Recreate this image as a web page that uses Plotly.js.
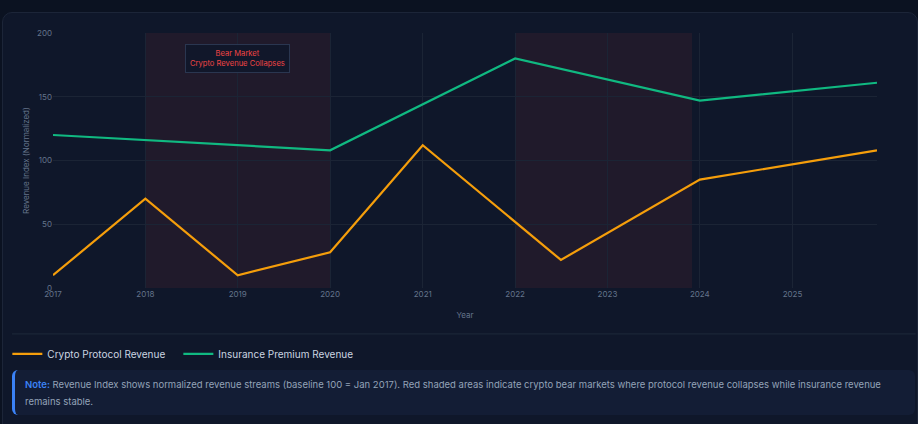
<!DOCTYPE html>
<html>
<head>
<meta charset="utf-8">
<script src="https://cdn.plot.ly/plotly-3.0.1.min.js"></script>
<style>
  html, body { margin: 0; padding: 0; background: #0b1221; width: 918px; height: 424px; overflow: hidden; font-family: Inter, "Noto Sans", sans-serif; }
  #card { position: absolute; left: 2px; top: 12px; width: 916px; height: 430px; background: #0f172a; border: 1px solid #1c2538; border-radius: 10px; box-sizing: border-box; }
  #chart { position: absolute; left: 0; top: 0; width: 918px; height: 366px; }
  #note { position: absolute; left: 12px; top: 370px; width: 903px; height: 45px; box-sizing: border-box; background: #131d35; border-left: 3px solid #3b82f6; border-radius: 6px; padding: 6px 10px 0 10px; color: #94a3b8; font-size: 9.5px; line-height: 17px; }
  #note b { color: #3b82f6; font-weight: 600; }
</style>
</head>
<body>
<div id="card"></div>
<div id="chart"></div>
<div id="note"><b>Note:</b> Revenue Index shows normalized revenue streams (baseline 100 = Jan 2017). Red shaded areas indicate crypto bear markets where protocol revenue collapses while insurance revenue remains stable.</div>
<script>
// values
var crypto_dates = ['2017-01-01', '2018-01-01', '2019-01-01', '2020-01-01', '2021-01-01', '2022-07-01', '2024-01-01', '2025-12-01']
var crypto_rev = [10, 70, 10, 28, 112, 22, 85, 108]

var ins_dates = ['2017-01-01', '2018-01-01', '2019-01-01', '2020-01-01', '2022-01-01', '2024-01-01', '2025-12-01']
var ins_rev = [120, 116, 112, 108, 180, 147, 161]

var bear_start = ['2018-01-01', '2022-01-01']
var bear_end = ['2020-01-01', '2023-12-01']

var tick_color = '#64748b'
var grid_color = '#1b2435'

var data = [
    {
        name: 'Crypto Protocol Revenue',
        x: crypto_dates,
        y: crypto_rev,
        type: 'scatter',
        mode: 'lines',
        legendwidth: 126,
        line: { color: '#f59e0b', width: 2.2 }
    },
    {
        name: 'Insurance Premium Revenue',
        x: ins_dates,
        y: ins_rev,
        type: 'scatter',
        mode: 'lines',
        line: { color: '#10b981', width: 2.2 }
    }
]

var shapes = bear_start.map(function (s, i) {
    return {
        type: 'rect', xref: 'x', yref: 'paper',
        x0: s, x1: bear_end[i], y0: 0, y1: 1,
        fillcolor: 'rgba(239,68,68,0.08)', line: { width: 0 }, layer: 'below'
    }
})
// divider above the legend
shapes.push({
    type: 'line', xref: 'paper', yref: 'paper',
    x0: -0.0498, x1: 1.047, y0: -0.18, y1: -0.18,
    line: { color: '#1e293b', width: 1 }
})

var layout = {
    width: 918,
    height: 366,
    margin: { l: 53, r: 41, t: 33, b: 78 },
    paper_bgcolor: 'rgba(0,0,0,0)',
    plot_bgcolor: 'rgba(0,0,0,0)',
    font: { family: 'Inter, sans-serif', color: tick_color, size: 8 },
    showlegend: true,
    legend: {
        orientation: 'h', xref: 'container', yref: 'container',
        x: 0.008, xanchor: 'left', y: 0.033, yanchor: 'middle',
        font: { size: 10, color: '#cbd5e1' }, bgcolor: 'rgba(0,0,0,0)'
    },
    xaxis: {
        type: 'date', automargin: false,
        range: ['2017-01-01', '2025-12-01'],
        dtick: 'M12', tick0: '2017-01-01', tickformat: '%Y',
        gridcolor: grid_color, showline: false, zeroline: false,
        tickfont: { size: 8, color: tick_color },
        title: { text: 'Year', font: { size: 8, color: tick_color }, standoff: 14 }
    },
    yaxis: {
        range: [0, 200], dtick: 50, automargin: false,
        gridcolor: grid_color, showline: false, zeroline: false,
        tickfont: { size: 8, color: tick_color },
        title: { text: 'Revenue Index (Normalized)', font: { size: 8, color: tick_color }, standoff: 6 }
    },
    shapes: shapes,
    annotations: [{
        x: '2019-01-01', y: 180, xref: 'x', yref: 'y',
        text: 'Bear Market<br>Crypto Revenue Collapses',
        showarrow: false,
        font: { size: 7.6, color: '#ef4444' },
        bgcolor: 'rgba(15,23,42,0.9)', bordercolor: '#2a3650', borderwidth: 1, borderpad: 4
    }]
}

Plotly.newPlot('chart', data, layout, { displayModeBar: false, staticPlot: true })
</script>
</body>
</html>
